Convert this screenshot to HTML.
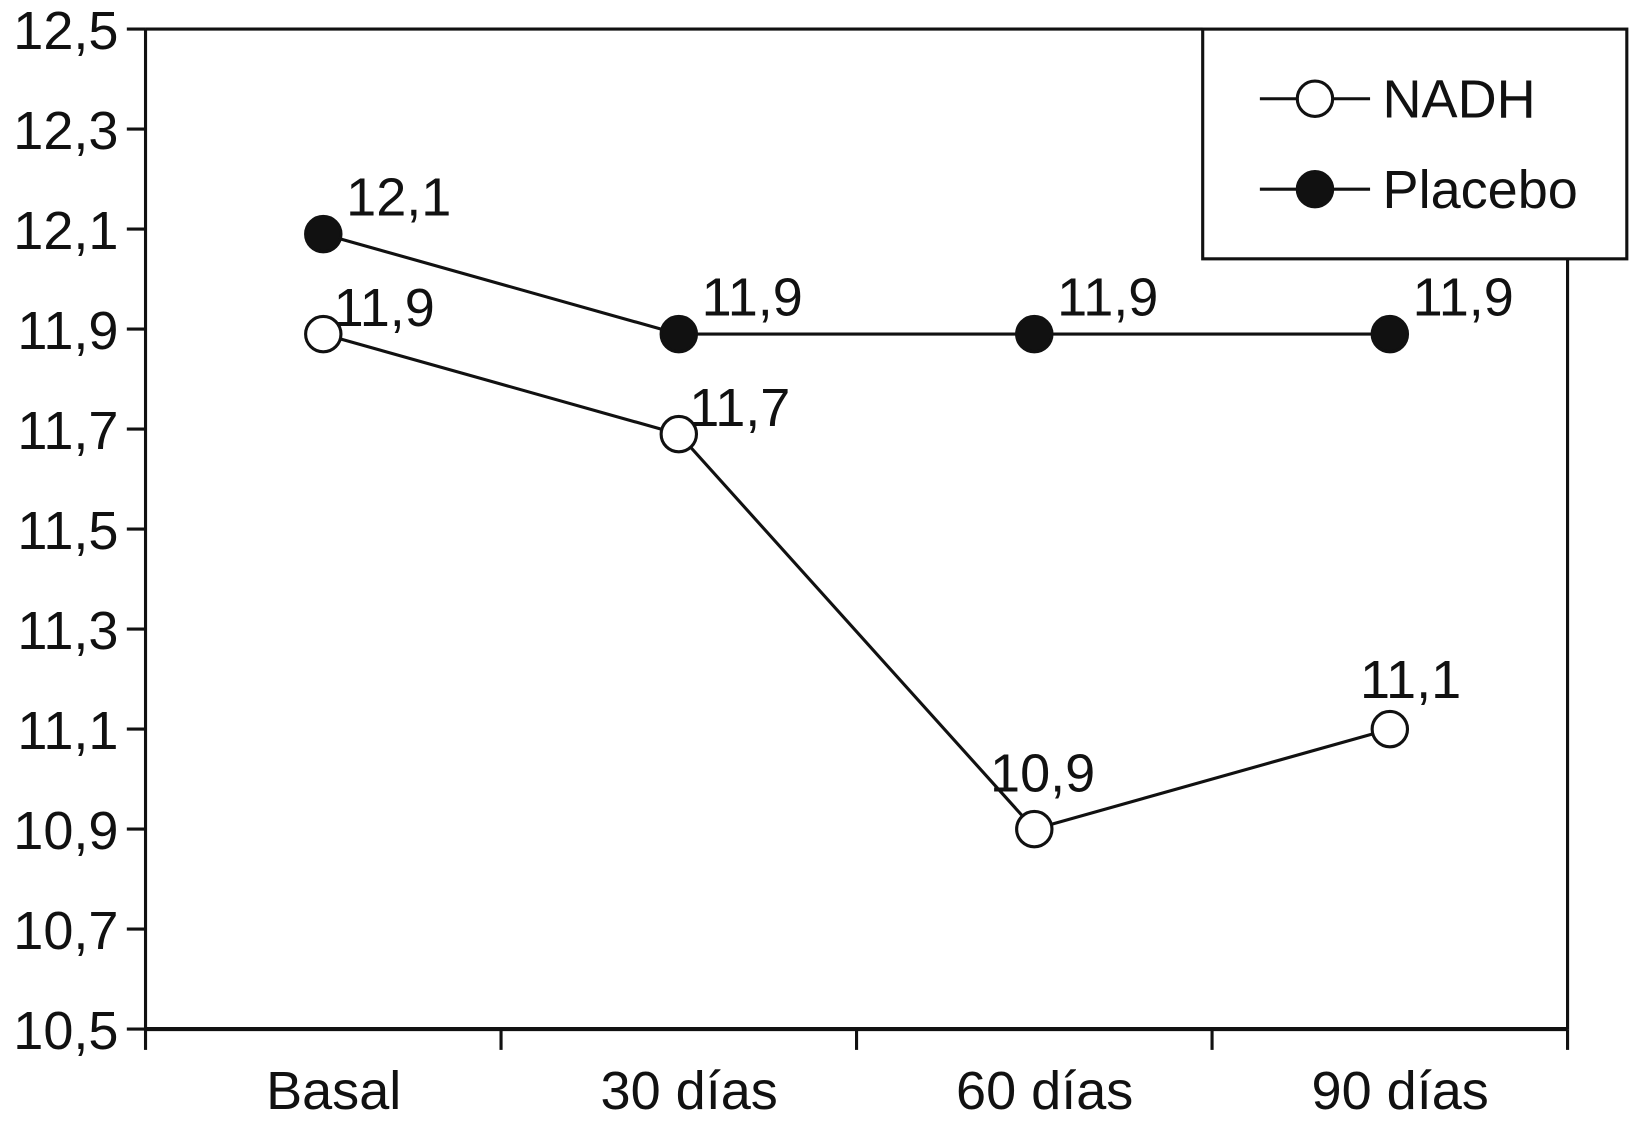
<!DOCTYPE html>
<html><head><meta charset="utf-8"><style>
html,body{margin:0;padding:0;background:#fff;}
svg{display:block;}
text{font-family:"Liberation Sans",Arial,sans-serif;fill:#111;}
</style></head><body>
<svg id="chart" width="1630" height="1127" viewBox="0 0 1630 1127" xmlns="http://www.w3.org/2000/svg">
<g id="root" transform="scale(1.0395)"></g>
</svg>
<script>
const categories = ["Basal", "30 días", "60 días", "90 días"];
const nadhValues = [11.89, 11.69, 10.90, 11.10];
const nadhLabels = ["11,9", "11,7", "10,9", "11,1"];
const placeboValues = [12.09, 11.89, 11.89, 11.89];
const placeboLabels = ["12,1", "11,9", "11,9", "11,9"];
const yTicks = [10.5, 10.7, 10.9, 11.1, 11.3, 11.5, 11.7, 11.9, 12.1, 12.3, 12.5];
const yTickLabels = ["10,5","10,7","10,9","11,1","11,3","11,5","11,7","11,9","12,1","12,3","12,5"];

const NS = "http://www.w3.org/2000/svg";
const root = document.getElementById('root');
const L = 140, R = 1508, T = 28, B = 990;
const yMin = 10.5, yMax = 12.5;
const band = (R - L) / categories.length;
const FS = 52;
function xPos(i){ return L + band * (i + 0.5); }
function yPos(v){ return B - (v - yMin) / (yMax - yMin) * (B - T); }
function mk(tag, attrs, parent){
  const e = document.createElementNS(NS, tag);
  for (const k in attrs) e.setAttribute(k, attrs[k]);
  (parent || root).appendChild(e);
  return e;
}

let a = mk('line',{x1:L,y1:T,x2:L,y2:B,stroke:'#111','stroke-width':3});


a = mk('line',{x1:L,y1:B,x2:R,y2:B,stroke:'#111','stroke-width':4});


a = mk('line',{x1:L,y1:T,x2:1157,y2:T,stroke:'#111','stroke-width':3});


a = mk('line',{x1:R,y1:249,x2:R,y2:B,stroke:'#111','stroke-width':3});



yTicks.forEach((v,i)=>{
  const y = yPos(v);
  const t = mk('line',{x1:L-18,y1:y,x2:L,y2:y,stroke:'#111','stroke-width':3});
  
  
  const tx = mk('text',{x:L-26,y:y+19,'text-anchor':'end','font-size':FS});
  tx.textContent = yTickLabels[i];
  
  
});
for (let i=0;i<=categories.length;i++){
  const x = L + band*i;
  const t = mk('line',{x1:x,y1:B,x2:x,y2:B+20,stroke:'#111','stroke-width':3});
  
  
}
categories.forEach((c,i)=>{
  const tx = mk('text',{x:xPos(i)+10,y:1067,'text-anchor':'middle','font-size':FS});
  tx.textContent = c;
  
  
});

function series(vals, labels, filled, name, labelPos){
  const pts = vals.map((v,i)=>xPos(i)+','+yPos(v)).join(' ');
  const pl = mk('polyline',{points:pts,fill:'none',stroke:'#111','stroke-width':3});
  
  
  vals.forEach((v,i)=>{
    const c = mk('circle',{cx:xPos(i),cy:yPos(v),r:17,fill:filled?'#111':'#fff',stroke:'#111','stroke-width':3});
    
    
    const p = labelPos(i);
    const t = mk('text',{x:xPos(i)+p[0],y:yPos(v)+p[1],'text-anchor':p[2],'font-size':FS});
    t.textContent = labels[i];
    
    
  });
}
series(nadhValues, nadhLabels, false, 'nadh', i => i===2 ? [8,-36,'middle'] : i===3 ? [20,-30,'middle'] : [10,-8,'start']);
series(placeboValues, placeboLabels, true, 'placebo', i => [22,-18,'start']);

const lg = mk('g',{});


const box = mk('rect',{x:1157,y:28,width:408,height:221,fill:'#fff',stroke:'#111','stroke-width':3},lg);


[['NADH',false,95],['Placebo',true,182]].forEach(([lab,f,y])=>{
  const e = mk('g',{},lg);
  
  
  mk('line',{x1:1212,y1:y,x2:1318,y2:y,stroke:'#111','stroke-width':3},e);
  mk('circle',{cx:1265,cy:y,r:17,fill:f?'#111':'#fff',stroke:'#111','stroke-width':3},e);
  const t = mk('text',{x:1330,y:y+18,'font-size':FS},e);
  t.textContent = lab;
});
</script>
</body></html>
